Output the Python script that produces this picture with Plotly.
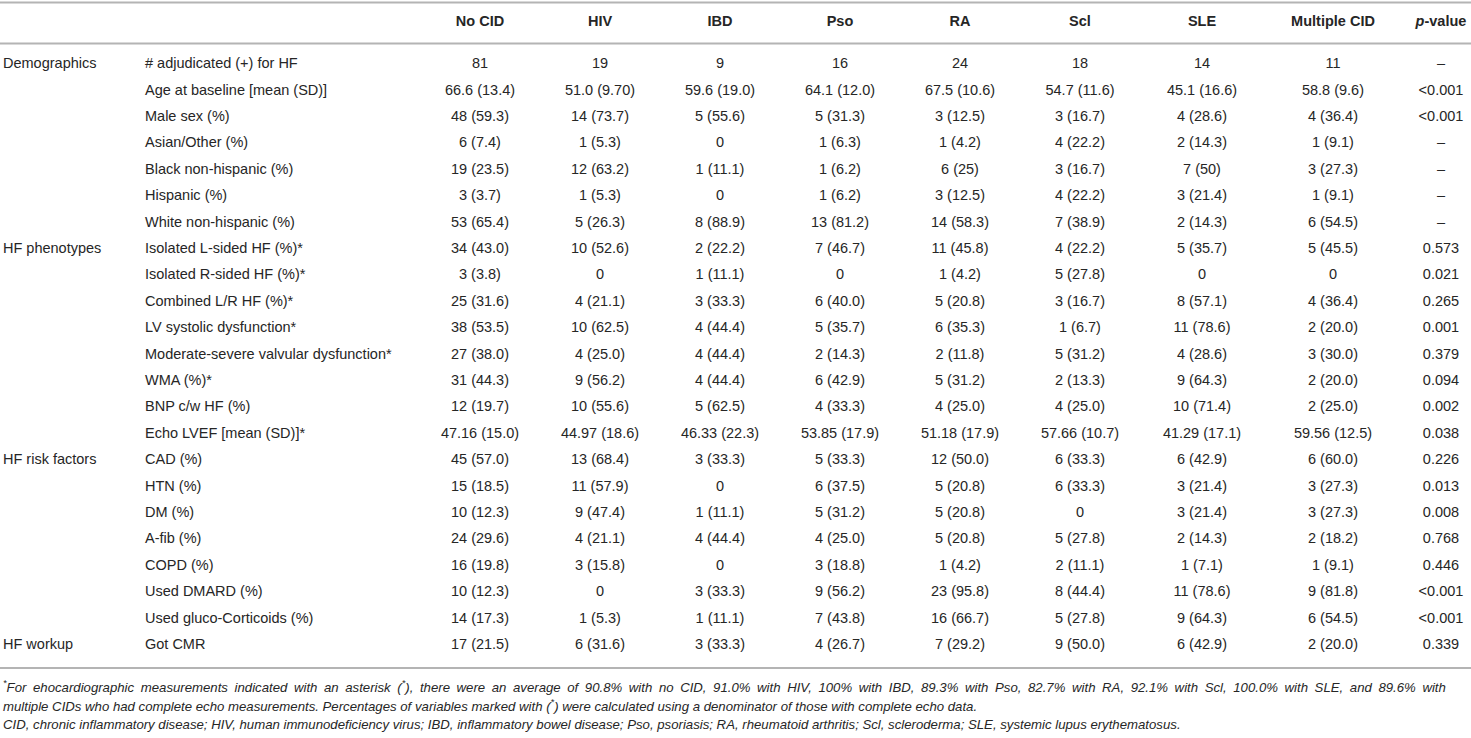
import plotly.graph_objects as go

# Table data, one list per column
groups = ["Demographics", "", "", "", "", "", "",
          "HF phenotypes", "", "", "", "", "", "", "",
          "HF risk factors", "", "", "", "", "", "",
          "HF workup"]
variables = [
    "# adjudicated (+) for HF", "Age at baseline [mean (SD)]", "Male sex (%)",
    "Asian/Other (%)", "Black non-hispanic (%)", "Hispanic (%)", "White non-hispanic (%)",
    "Isolated L-sided HF (%)*", "Isolated R-sided HF (%)*", "Combined L/R HF (%)*",
    "LV systolic dysfunction*", "Moderate-severe valvular dysfunction*", "WMA (%)*",
    "BNP c/w HF (%)", "Echo LVEF [mean (SD)]*",
    "CAD (%)", "HTN (%)", "DM (%)", "A-fib (%)", "COPD (%)", "Used DMARD (%)",
    "Used gluco-Corticoids (%)", "Got CMR",
]
no_cid = ["81", "66.6 (13.4)", "48 (59.3)", "6 (7.4)", "19 (23.5)", "3 (3.7)", "53 (65.4)",
          "34 (43.0)", "3 (3.8)", "25 (31.6)", "38 (53.5)", "27 (38.0)", "31 (44.3)",
          "12 (19.7)", "47.16 (15.0)", "45 (57.0)", "15 (18.5)", "10 (12.3)", "24 (29.6)",
          "16 (19.8)", "10 (12.3)", "14 (17.3)", "17 (21.5)"]
hiv = ["19", "51.0 (9.70)", "14 (73.7)", "1 (5.3)", "12 (63.2)", "1 (5.3)", "5 (26.3)",
       "10 (52.6)", "0", "4 (21.1)", "10 (62.5)", "4 (25.0)", "9 (56.2)",
       "10 (55.6)", "44.97 (18.6)", "13 (68.4)", "11 (57.9)", "9 (47.4)", "4 (21.1)",
       "3 (15.8)", "0", "1 (5.3)", "6 (31.6)"]
ibd = ["9", "59.6 (19.0)", "5 (55.6)", "0", "1 (11.1)", "0", "8 (88.9)",
       "2 (22.2)", "1 (11.1)", "3 (33.3)", "4 (44.4)", "4 (44.4)", "4 (44.4)",
       "5 (62.5)", "46.33 (22.3)", "3 (33.3)", "0", "1 (11.1)", "4 (44.4)",
       "0", "3 (33.3)", "1 (11.1)", "3 (33.3)"]
pso = ["16", "64.1 (12.0)", "5 (31.3)", "1 (6.3)", "1 (6.2)", "1 (6.2)", "13 (81.2)",
       "7 (46.7)", "0", "6 (40.0)", "5 (35.7)", "2 (14.3)", "6 (42.9)",
       "4 (33.3)", "53.85 (17.9)", "5 (33.3)", "6 (37.5)", "5 (31.2)", "4 (25.0)",
       "3 (18.8)", "9 (56.2)", "7 (43.8)", "4 (26.7)"]
ra = ["24", "67.5 (10.6)", "3 (12.5)", "1 (4.2)", "6 (25)", "3 (12.5)", "14 (58.3)",
      "11 (45.8)", "1 (4.2)", "5 (20.8)", "6 (35.3)", "2 (11.8)", "5 (31.2)",
      "4 (25.0)", "51.18 (17.9)", "12 (50.0)", "5 (20.8)", "5 (20.8)", "5 (20.8)",
      "1 (4.2)", "23 (95.8)", "16 (66.7)", "7 (29.2)"]
scl = ["18", "54.7 (11.6)", "3 (16.7)", "4 (22.2)", "3 (16.7)", "4 (22.2)", "7 (38.9)",
       "4 (22.2)", "5 (27.8)", "3 (16.7)", "1 (6.7)", "5 (31.2)", "2 (13.3)",
       "4 (25.0)", "57.66 (10.7)", "6 (33.3)", "6 (33.3)", "0", "5 (27.8)",
       "2 (11.1)", "8 (44.4)", "5 (27.8)", "9 (50.0)"]
sle = ["14", "45.1 (16.6)", "4 (28.6)", "2 (14.3)", "7 (50)", "3 (21.4)", "2 (14.3)",
       "5 (35.7)", "0", "8 (57.1)", "11 (78.6)", "4 (28.6)", "9 (64.3)",
       "10 (71.4)", "41.29 (17.1)", "6 (42.9)", "3 (21.4)", "3 (21.4)", "2 (14.3)",
       "1 (7.1)", "11 (78.6)", "9 (64.3)", "6 (42.9)"]
multiple_cid = ["11", "58.8 (9.6)", "4 (36.4)", "1 (9.1)", "3 (27.3)", "1 (9.1)", "6 (54.5)",
                "5 (45.5)", "0", "4 (36.4)", "2 (20.0)", "3 (30.0)", "2 (20.0)",
                "2 (25.0)", "59.56 (12.5)", "6 (60.0)", "3 (27.3)", "3 (27.3)", "2 (18.2)",
                "1 (9.1)", "9 (81.8)", "6 (54.5)", "2 (20.0)"]
p_values = ["–", "&lt;0.001", "&lt;0.001", "–", "–", "–", "–",
            "0.573", "0.021", "0.265", "0.001", "0.379", "0.094", "0.002", "0.038",
            "0.226", "0.013", "0.008", "0.768", "0.446", "&lt;0.001", "&lt;0.001", "0.339"]

headers = ["", "", "No CID", "HIV", "IBD", "Pso", "RA", "Scl", "SLE", "Multiple CID",
           "<i>p</i>-value"]

footnotes = [
    "<sup>*</sup>For ehocardiographic measurements indicated with an asterisk (<sup>*</sup>), "
    "there were an average of 90.8% with no CID, 91.0% with HIV, 100% with IBD, 89.3% with Pso, "
    "82.7% with RA, 92.1% with Scl, 100.0% with SLE, and 89.6% with",
    "multiple CIDs who had complete echo measurements. Percentages of variables marked with "
    "(<sup>*</sup>) were calculated using a denominator of those with complete echo data.",
    "CID, chronic inflammatory disease; HIV, human immunodeficiency virus; IBD, inflammatory "
    "bowel disease; Pso, psoriasis; RA, rheumatoid arthritis; Scl, scleroderma; SLE, systemic "
    "lupus erythematosus.",
]

W, H = 1471, 738
FONT = "Liberation Sans, Arial, Helvetica, sans-serif"
TEXT = "#262626"
RULE = "#b4b4b4"

# layout: x in pixels, rows spaced 26.4 px starting 64.5 px from the top
col_x = [3, 145, 480, 600, 720, 840, 960, 1080, 1202, 1333, 1441]
ROW0, ROW_H = 64.5, 26.4
HEADER_Y = (22 - ROW0) / ROW_H


def py(px):
    # pixel offset from top -> paper coordinate
    return 1 - px / H


columns = [groups, variables, no_cid, hiv, ibd, pso, ra, scl, sle, multiple_cid, p_values]

fig = go.Figure()
for j, (x, col, head) in enumerate(zip(col_x, columns, headers)):
    pos = "middle right" if j < 2 else "middle center"
    ys = ([HEADER_Y] if head else []) + [i for i, v in enumerate(col) if v]
    texts = ([f"<b>{head}</b>"] if head else []) + [v for v in col if v]
    fig.add_trace(go.Scatter(
        x=[x] * len(ys), y=ys, text=texts,
        mode="text", textposition=pos, hoverinfo="skip", showlegend=False,
        textfont=dict(family=FONT, size=14.5, color=TEXT),
    ))

# horizontal rules
for y in [2.5, 43.5, 668]:
    fig.add_shape(type="line", xref="paper", yref="paper", x0=0, x1=1, y0=py(y), y1=py(y),
                  line=dict(color=RULE, width=2))

# first footnote line is justified in the original: widen its word gaps (en space)
for i, line in enumerate(footnotes):
    if i == 0:
        line = line.replace(" ", "\u2002")
    fig.add_annotation(
        text=f"<i>{line}</i>", xref="paper", yref="paper", x=0.001, y=py(686 + 19 * i),
        xanchor="left", yanchor="middle", showarrow=False, align="left",
        font=dict(family=FONT, size=13.2, color=TEXT),
    )

fig.update_layout(
    width=W, height=H,
    margin=dict(l=0, r=0, t=0, b=0),
    paper_bgcolor="white",
    plot_bgcolor="white",
    xaxis=dict(range=[0, W], visible=False, fixedrange=True),
    yaxis=dict(range=[(H - ROW0) / ROW_H, -ROW0 / ROW_H], visible=False, fixedrange=True),
)

fig.write_html("out.html", config={"displayModeBar": False},
               post_script="document.body.style.margin = '0';")
